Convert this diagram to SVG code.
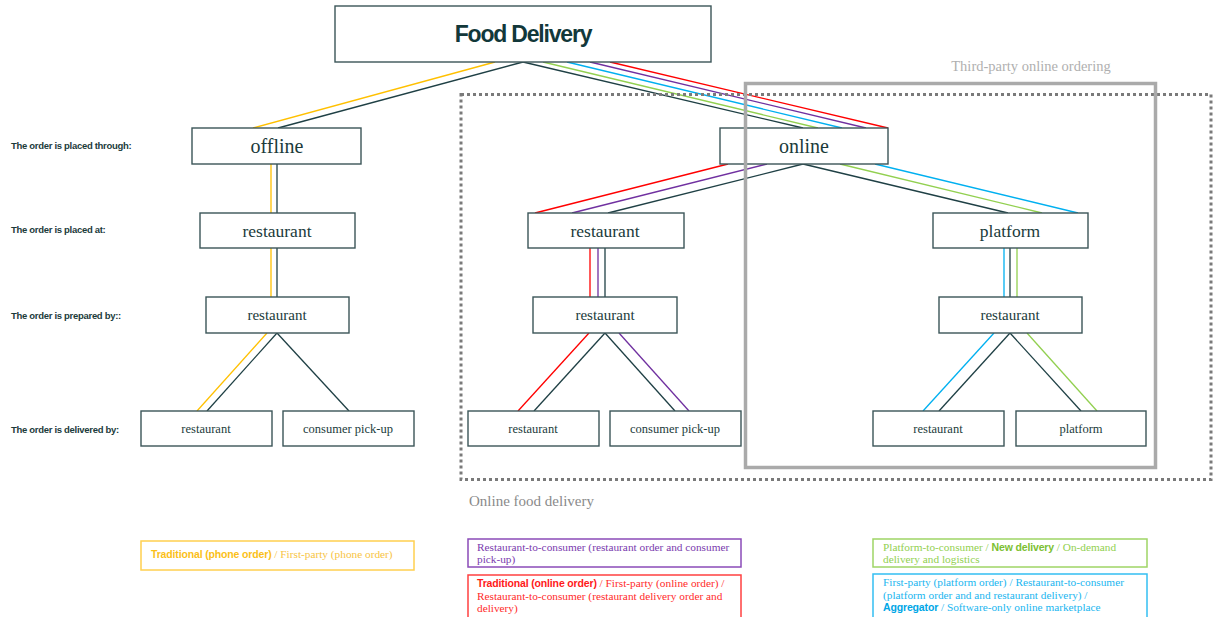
<svg xmlns="http://www.w3.org/2000/svg" width="1213" height="617" viewBox="0 0 1213 617">
<style>
.node rect{fill:#fff;stroke:#3b5558;stroke-width:1.4}
.nt{font-family:"Liberation Serif","Times New Roman",serif;fill:#1b3b3b;text-anchor:middle}
.lbl{font-family:"Liberation Sans",Arial,sans-serif;font-weight:bold;font-size:9.5px;letter-spacing:-0.3px;fill:#1b3b3b}
#connectors line{stroke-width:1.3;fill:none}
.k{stroke:#1f4045}.y{stroke:#ffc000}.r{stroke:#ff0000}.p{stroke:#7030a0}.b{stroke:#00b0f0}.g{stroke:#92d050}
.ser{font-family:"Liberation Serif","Times New Roman",serif;font-size:11.3px}
.bs{font-family:"Liberation Sans",Arial,sans-serif;font-weight:bold;font-size:10.5px;letter-spacing:-0.15px}
</style>
<g id="connectors">
<line class="y" x1="495" y1="62" x2="253" y2="128"/>
<line class="k" x1="523" y1="62" x2="278" y2="128"/>
<line class="k" x1="523" y1="62" x2="803" y2="128"/>
<line class="g" x1="543" y1="62" x2="818" y2="128"/>
<line class="b" x1="567" y1="62" x2="842" y2="128"/>
<line class="p" x1="590" y1="62" x2="866" y2="128"/>
<line class="r" x1="610" y1="62" x2="888" y2="128"/>
<line class="y" x1="271" y1="164" x2="271" y2="213"/>
<line class="k" x1="277" y1="164" x2="277" y2="213"/>
<line class="y" x1="271" y1="248" x2="271" y2="297"/>
<line class="k" x1="277" y1="248" x2="277" y2="297"/>
<line class="y" x1="267" y1="333" x2="197" y2="411"/>
<line class="k" x1="277" y1="333" x2="207" y2="411"/>
<line class="k" x1="277" y1="333" x2="349" y2="411"/>
<line class="r" x1="728" y1="164" x2="535" y2="213"/>
<line class="p" x1="767" y1="164" x2="572" y2="213"/>
<line class="k" x1="803" y1="164" x2="608" y2="213"/>
<line class="k" x1="803" y1="164" x2="1008" y2="213"/>
<line class="g" x1="840" y1="164" x2="1042" y2="213"/>
<line class="b" x1="875" y1="164" x2="1078" y2="213"/>
<line class="r" x1="590" y1="248" x2="590" y2="297"/>
<line class="p" x1="598" y1="248" x2="598" y2="297"/>
<line class="k" x1="605" y1="248" x2="605" y2="297"/>
<line class="r" x1="589" y1="333" x2="518" y2="411"/>
<line class="k" x1="605" y1="333" x2="534" y2="411"/>
<line class="k" x1="605" y1="333" x2="675" y2="411"/>
<line class="p" x1="619" y1="333" x2="689" y2="411"/>
<line class="b" x1="1004" y1="248" x2="1004" y2="297"/>
<line class="k" x1="1010" y1="248" x2="1010" y2="297"/>
<line class="g" x1="1017" y1="248" x2="1017" y2="297"/>
<line class="b" x1="994" y1="333" x2="923" y2="411"/>
<line class="k" x1="1010" y1="333" x2="939" y2="411"/>
<line class="k" x1="1010" y1="333" x2="1081" y2="411"/>
<line class="g" x1="1027" y1="333" x2="1097" y2="411"/>
</g>
<g id="food-delivery" class="node"><rect x="335" y="6" width="376" height="56"/><text x="523" y="42" font-family="Liberation Sans,Arial,sans-serif" font-weight="bold" font-size="23" letter-spacing="-1.2" fill="#12383a" text-anchor="middle">Food Delivery</text></g>
<g id="offline" class="node"><rect x="192" y="128" width="169" height="36"/><text class="nt" x="277" y="153" font-size="20">offline</text></g>
<g id="online" class="node"><rect x="720" y="128" width="168" height="36"/><text class="nt" x="804" y="153" font-size="20">online</text></g>
<g id="off-placed-restaurant" class="node"><rect x="200" y="213" width="155" height="35"/><text class="nt" x="277" y="237" font-size="17.5">restaurant</text></g>
<g id="on-placed-restaurant" class="node"><rect x="528" y="213" width="156" height="35"/><text class="nt" x="605" y="237" font-size="17.5">restaurant</text></g>
<g id="on-placed-platform" class="node"><rect x="933" y="213" width="155" height="35"/><text class="nt" x="1010" y="237" font-size="17.5">platform</text></g>
<g id="off-prep-restaurant" class="node"><rect x="206" y="297" width="143" height="36"/><text class="nt" x="277" y="320" font-size="15">restaurant</text></g>
<g id="on-prep-restaurant" class="node"><rect x="533" y="297" width="144" height="36"/><text class="nt" x="605" y="320" font-size="15">restaurant</text></g>
<g id="pl-prep-restaurant" class="node"><rect x="939" y="297" width="143" height="36"/><text class="nt" x="1010" y="320" font-size="15">restaurant</text></g>
<g id="off-del-restaurant" class="node"><rect x="141" y="411" width="131" height="35"/><text class="nt" x="206" y="433" font-size="12.5">restaurant</text></g>
<g id="off-del-pickup" class="node"><rect x="283" y="411" width="131" height="35"/><text class="nt" x="348" y="433" font-size="12.5">consumer pick-up</text></g>
<g id="on-del-restaurant" class="node"><rect x="468" y="411" width="131" height="35"/><text class="nt" x="533" y="433" font-size="12.5">restaurant</text></g>
<g id="on-del-pickup" class="node"><rect x="610" y="411" width="131" height="35"/><text class="nt" x="675" y="433" font-size="12.5">consumer pick-up</text></g>
<g id="pl-del-restaurant" class="node"><rect x="873" y="411" width="131" height="35"/><text class="nt" x="938" y="433" font-size="12.5">restaurant</text></g>
<g id="pl-del-platform" class="node"><rect x="1016" y="411" width="130" height="35"/><text class="nt" x="1081" y="433" font-size="12.5">platform</text></g>
<g id="row-labels">
<text class="lbl" x="11" y="149">The order is placed through:</text>
<text class="lbl" x="11" y="233">The order is placed at:</text>
<text class="lbl" x="11" y="319">The order is prepared by::</text>
<text class="lbl" x="11" y="433">The order is delivered by:</text>
</g>
<g id="online-food-delivery">
<rect x="461" y="94.5" width="750" height="385" fill="none" stroke="#7a7a7a" stroke-width="3" stroke-dasharray="3,3"/>
<text x="469" y="506" font-family="Liberation Serif,Times New Roman,serif" font-size="15" fill="#8a8a8a">Online food delivery</text>
</g>
<g id="third-party">
<rect x="745.5" y="83.5" width="410" height="384" fill="none" stroke="#aaaaaa" stroke-width="3.5"/>
<text x="1031" y="71" font-family="Liberation Serif,Times New Roman,serif" font-size="14.5" fill="#b0b0b0" text-anchor="middle">Third-party online ordering</text>
</g>
<g id="legend-yellow">
<rect x="141" y="541" width="273" height="29" fill="#fff" stroke="#ffd04f" stroke-width="1.5"/>
<text x="151" y="558"><tspan class="bs" fill="#fbbf19">Traditional (phone order)</tspan><tspan class="ser" font-size="11.5" fill="#f7c444"> / First-party (phone order)</tspan></text>
</g>
<g id="legend-purple">
<rect x="468" y="539" width="273" height="28" fill="#fff" stroke="#8a4bb8" stroke-width="1.5"/>
<text class="ser" fill="#7a3aae" x="477" y="551">Restaurant-to-consumer (restaurant order and consumer</text>
<text class="ser" fill="#7a3aae" x="477" y="563">pick-up)</text>
</g>
<g id="legend-red">
<rect x="468" y="575" width="273" height="50" fill="#fff" stroke="#ff4040" stroke-width="1.5"/>
<text x="477" y="587"><tspan class="bs" fill="#ff1a1a">Traditional (online order)</tspan><tspan class="ser" fill="#ff2a2a"> / First-party (online order) /</tspan></text>
<text class="ser" fill="#ff2a2a" x="477" y="599.5">Restaurant-to-consumer (restaurant delivery order and</text>
<text class="ser" fill="#ff2a2a" x="477" y="612">delivery)</text>
</g>
<g id="legend-green">
<rect x="873" y="539" width="274" height="28" fill="#fff" stroke="#9fd565" stroke-width="1.5"/>
<text x="883" y="551"><tspan class="ser" fill="#92d050">Platform-to-consumer / </tspan><tspan class="bs" fill="#7cc032">New delivery</tspan><tspan class="ser" fill="#92d050"> / On-demand</tspan></text>
<text class="ser" fill="#92d050" x="883" y="563">delivery and logistics</text>
</g>
<g id="legend-blue">
<rect x="873" y="574" width="274" height="50" fill="#fff" stroke="#33bff2" stroke-width="1.5"/>
<text class="ser" fill="#1ab6f0" x="883" y="586">First-party (platform order) / Restaurant-to-consumer</text>
<text class="ser" fill="#1ab6f0" x="883" y="598.5">(platform order and and restaurant delivery) /</text>
<text x="883" y="611"><tspan class="bs" fill="#00a6e6">Aggregator</tspan><tspan class="ser" fill="#1ab6f0"> / Software-only online marketplace</tspan></text>
</g>
</svg>
